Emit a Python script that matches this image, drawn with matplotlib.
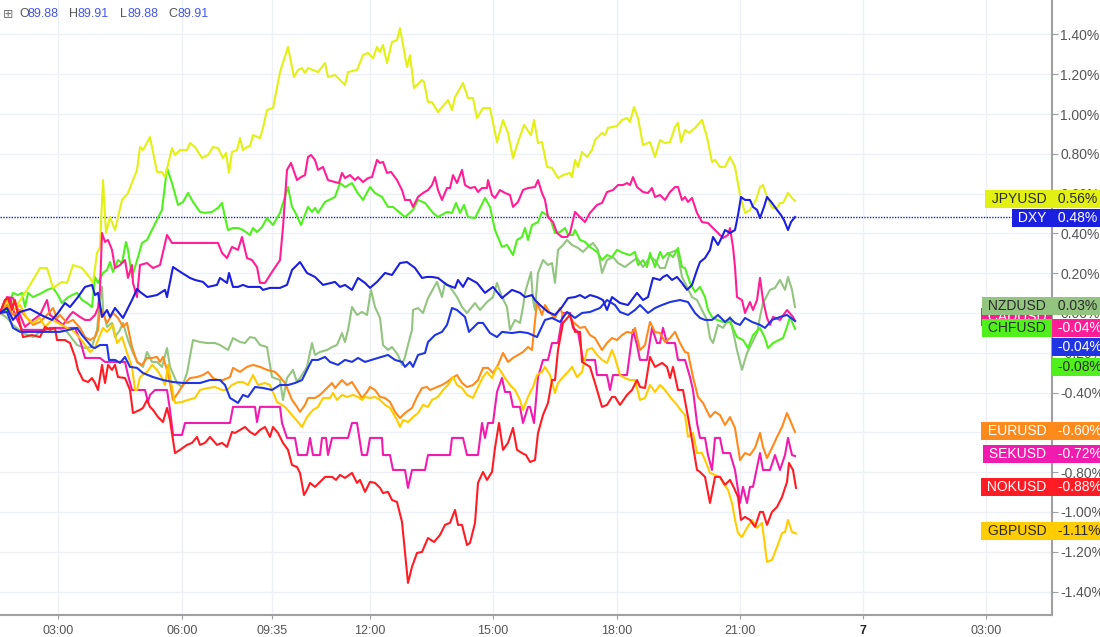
import matplotlib
matplotlib.use('Agg')
import matplotlib.pyplot as plt

plt.rcParams['font.family'] = ['Liberation Sans', 'DejaVu Sans']

# (bar, % change)
jpy = [(0, 0), (1.0, 0.025), (2.0, 0.065), (3.4, 0.040), (5.4, 0.116), (8.0, 0.226), (9.4, 0.226), (10.6, 0.126),
       (12.4, 0.156), (13.4, 0.151), (14.6, 0.241), (16.4, 0.226), (18.0, 0.176), (18.6, 0.151), (19.4, 0.302),
       (20.0, 0.332), (20.6, 0.668), (21.2, 0.402), (22.0, 0.482), (23.0, 0.417), (24.4, 0.568), (25.6, 0.603),
       (27.4, 0.719), (28.0, 0.834), (28.6, 0.819), (30.0, 0.884), (31.4, 0.709), (32.4, 0.709), (33.0, 0.683),
       (34.4, 0.829), (35.0, 0.794), (36.0, 0.819), (37.4, 0.819), (38.0, 0.854), (39.0, 0.834), (40.4, 0.779),
       (41.6, 0.794), (42.6, 0.834), (43.6, 0.829), (44.6, 0.779), (45.2, 0.804), (45.8, 0.704), (46.4, 0.809),
       (47.4, 0.819), (48.0, 0.879), (48.6, 0.819), (49.4, 0.834), (50.0, 0.839), (50.6, 0.894), (52.0, 0.879),
       (52.6, 0.930), (53.4, 1.020), (54.6, 1.030), (56.0, 1.211), (57.6, 1.337), (58.8, 1.186), (59.6, 1.221),
       (60.4, 1.231), (61.0, 1.206), (61.6, 1.231), (62.6, 1.221), (63.6, 1.211), (65.0, 1.256), (65.6, 1.186),
       (67.0, 1.196), (68.0, 1.171), (69.0, 1.146), (69.6, 1.211), (71.4, 1.221), (72.6, 1.296), (73.6, 1.307),
       (74.6, 1.281), (75.4, 1.337), (76.0, 1.312), (76.6, 1.347), (77.4, 1.256), (78.4, 1.362), (79.4, 1.372),
       (80.0, 1.432), (81.4, 1.236), (82.0, 1.296), (82.8, 1.131), (84.4, 1.171), (84.8, 1.161), (85.6, 1.060),
       (86.4, 1.060), (87.6, 1.010), (89.6, 1.070), (90.4, 1.020), (91.0, 1.085), (92.6, 1.156), (93.6, 1.080),
       (94.6, 1.080), (95.4, 0.980), (96.6, 1.030), (98.0, 1.030), (99.4, 0.859), (100.6, 0.970), (101.6, 0.905),
       (102.6, 0.779), (103.6, 0.859), (104.8, 0.945), (106.2, 0.894), (106.8, 0.970), (107.6, 0.854),
       (108.4, 0.859), (109.4, 0.734), (110.4, 0.729), (111.6, 0.678), (112.6, 0.693), (114.0, 0.704),
       (114.4, 0.683), (115.0, 0.769), (115.6, 0.734), (116.4, 0.809), (117.4, 0.784), (118.4, 0.819),
       (119.0, 0.869), (120.4, 0.905), (121.0, 0.894), (121.6, 0.930), (123.4, 0.940), (124.4, 0.970),
       (125.4, 0.980), (126.0, 0.960), (126.8, 1.035), (127.6, 0.980), (128.6, 0.844), (130.0, 0.859),
       (131.0, 0.784), (132.0, 0.869), (133.0, 0.854), (134.0, 0.859), (135.0, 0.935), (135.6, 0.955),
       (136.2, 0.859), (137.0, 0.920), (137.8, 0.905), (139.0, 0.930), (140.4, 0.970), (141.4, 0.884),
       (142.4, 0.759), (143.0, 0.769), (144.0, 0.734), (145.0, 0.734), (146.0, 0.784), (147.0, 0.734),
       (148.0, 0.593), (149.0, 0.503), (150.0, 0.518), (151.2, 0.568), (152.0, 0.633), (152.6, 0.643),
       (153.4, 0.583), (154.4, 0.528), (155.4, 0.528), (156.0, 0.553), (156.6, 0.553), (157.6, 0.603),
       (158.4, 0.578), (159.0, 0.563)]

dxy = [(0, 0), (1.4, 0.025), (2.6, -0.035), (4.0, 0.005), (6.0, 0.020), (8.6, -0.015), (10.4, -0.035),
       (11.6, 0.0), (13.0, 0.050), (14.0, 0.030), (15.6, 0.080), (17.0, 0.131), (18.4, 0.141), (19.0, 0.090),
       (19.6, 0.101), (20.4, -0.020), (21.4, 0.015), (22.0, -0.020), (23.0, 0.025), (24.6, -0.025),
       (26.4, 0.065), (27.4, 0.121), (28.0, 0.106), (29.4, 0.080), (31.4, 0.090), (33.0, 0.116), (33.4, 0.080),
       (34.6, 0.231), (36.4, 0.201), (38.0, 0.176), (39.0, 0.166), (40.6, 0.156), (41.6, 0.131), (43.4, 0.141),
       (44.0, 0.176), (45.4, 0.151), (45.8, 0.201), (46.6, 0.131), (47.6, 0.131), (48.6, 0.141), (49.6, 0.131),
       (52.0, 0.131), (52.6, 0.116), (54.0, 0.126), (56.0, 0.126), (57.4, 0.141), (58.4, 0.216), (60.0, 0.256),
       (61.4, 0.201), (63.0, 0.181), (64.6, 0.141), (67.0, 0.156), (68.0, 0.131), (69.0, 0.141), (70.4, 0.116),
       (71.6, 0.176), (73.0, 0.151), (74.0, 0.126), (75.4, 0.156), (77.0, 0.201), (78.4, 0.191), (80.0, 0.251),
       (81.4, 0.256), (83.0, 0.226), (84.4, 0.176), (85.4, 0.181), (86.4, 0.181), (87.6, 0.176), (89.4, 0.141),
       (91.0, 0.126), (91.6, 0.166), (92.6, 0.131), (93.6, 0.176), (95.4, 0.151), (97.0, 0.101), (98.6, 0.131),
       (100.4, 0.075), (102.4, 0.116), (104.0, 0.101), (105.0, 0.080), (106.4, 0.090), (107.0, 0.065),
       (108.0, 0.040), (109.6, 0.005), (111.0, -0.010), (112.4, 0.030), (113.6, 0.075), (115.0, 0.080),
       (116.0, 0.090), (117.0, 0.075), (118.0, 0.090), (119.4, 0.080), (120.6, 0.065), (121.4, 0.015),
       (122.4, 0.080), (124.0, 0.050), (125.6, 0.040), (127.4, 0.101), (128.6, 0.065), (129.6, 0.080),
       (130.6, 0.176), (132.0, 0.166), (132.6, 0.181), (133.4, 0.191), (134.4, 0.166), (135.4, 0.181),
       (136.4, 0.151), (137.4, 0.116), (138.4, 0.141), (139.4, 0.216), (140.0, 0.256), (141.0, 0.276),
       (142.0, 0.317), (142.6, 0.382), (143.6, 0.342), (144.4, 0.382), (145.0, 0.417), (146.0, 0.402),
       (147.0, 0.417), (147.6, 0.492), (148.2, 0.583), (149.0, 0.568), (150.0, 0.568), (150.6, 0.533),
       (151.4, 0.518), (152.0, 0.477), (152.8, 0.533), (153.4, 0.583), (154.4, 0.553), (155.4, 0.518),
       (156.2, 0.492), (156.8, 0.467), (157.6, 0.417), (158.2, 0.457), (159.0, 0.482)]

aud = [(0, 0), (1.4, 0.005), (2.6, -0.075), (4.0, -0.095), (8.6, -0.095), (12.0, -0.095), (15.4, -0.075),
       (16.4, -0.111), (18.4, -0.171), (19.0, -0.176), (20.0, -0.161), (21.4, -0.161), (21.8, -0.236),
       (23.0, -0.236), (24.0, -0.251), (25.0, -0.221), (26.0, -0.271), (27.4, -0.276), (28.6, -0.302),
       (30.6, -0.322), (32.6, -0.337), (34.6, -0.347), (36.6, -0.352), (40.0, -0.352), (42.0, -0.337),
       (44.0, -0.337), (45.0, -0.362), (46.0, -0.427), (47.6, -0.452), (48.6, -0.412), (49.6, -0.422),
       (51.0, -0.372), (52.6, -0.377), (54.4, -0.387), (56.0, -0.362), (57.6, -0.362), (59.0, -0.352),
       (60.4, -0.337), (61.4, -0.286), (62.4, -0.236), (63.6, -0.236), (65.0, -0.221), (66.0, -0.246),
       (67.6, -0.261), (69.0, -0.236), (70.4, -0.246), (71.6, -0.226), (73.0, -0.246), (75.6, -0.226),
       (77.6, -0.211), (79.0, -0.236), (80.4, -0.246), (81.0, -0.271), (82.0, -0.246), (82.6, -0.271),
       (83.6, -0.211), (85.0, -0.201), (85.6, -0.146), (87.0, -0.111), (88.4, -0.095), (89.4, -0.060),
       (90.4, 0.025), (91.4, 0.015), (93.0, -0.020), (93.8, -0.095), (95.6, -0.050), (96.6, -0.050),
       (98.0, -0.101), (99.4, -0.121), (100.4, -0.095), (102.4, -0.101), (104.0, -0.095), (105.6, -0.101),
       (107.4, -0.121), (109.0, -0.035), (110.4, -0.025), (112.0, -0.045), (113.4, 0.005), (115.0, -0.025),
       (116.4, 0.0), (118.0, 0.005), (120.0, 0.025), (121.4, 0.065), (123.0, 0.040), (124.0, 0.005),
       (125.6, -0.010), (127.0, 0.015), (128.0, 0.040), (129.6, 0.0), (131.0, 0.025), (132.4, 0.040),
       (134.0, 0.055), (136.0, 0.065), (137.6, 0.055), (139.0, 0.0), (140.0, -0.025), (141.0, -0.035),
       (142.4, -0.035), (143.6, -0.010), (145.0, -0.045), (146.0, -0.025), (147.0, -0.050), (148.0, -0.060),
       (149.0, -0.025), (150.4, -0.045), (152.0, -0.060), (153.0, -0.075), (154.4, -0.035), (156.0, -0.020),
       (157.4, -0.010), (159.0, -0.040)]

chf = [(0, 0), (1.4, 0.015), (2.6, 0.101), (3.6, 0.090), (4.4, 0.101), (5.0, 0.030), (5.6, 0.101), (6.6, 0.080),
       (8.4, 0.101), (9.4, 0.116), (10.6, 0.126), (11.6, 0.090), (12.4, 0.050), (13.4, 0.075), (14.4, 0.090),
       (15.4, 0.101), (16.4, 0.065), (17.4, 0.050), (18.4, 0.030), (19.0, 0.181), (19.6, 0.151), (20.6, 0.201),
       (21.4, 0.216), (22.0, 0.256), (22.6, 0.206), (23.6, 0.266), (24.4, 0.251), (25.2, 0.357), (25.6, 0.317),
       (26.4, 0.181), (27.0, 0.231), (27.6, 0.281), (28.4, 0.352), (29.4, 0.367), (30.4, 0.417), (31.4, 0.467),
       (32.4, 0.518), (33.4, 0.729), (34.4, 0.653), (35.6, 0.543), (36.6, 0.558), (37.6, 0.603), (38.6, 0.558),
       (40.0, 0.508), (41.0, 0.503), (42.4, 0.508), (43.6, 0.528), (44.4, 0.553), (45.0, 0.482), (45.6, 0.417),
       (46.6, 0.427), (47.6, 0.427), (48.6, 0.417), (50.0, 0.392), (50.6, 0.427), (51.4, 0.407), (52.4, 0.432),
       (53.4, 0.477), (54.6, 0.442), (56.0, 0.503), (57.6, 0.633), (58.4, 0.533), (59.0, 0.508), (60.2, 0.442),
       (61.6, 0.533), (62.4, 0.508), (63.0, 0.528), (63.6, 0.503), (65.0, 0.558), (67.0, 0.583), (68.0, 0.653),
       (69.0, 0.633), (70.4, 0.653), (71.4, 0.608), (72.6, 0.568), (74.0, 0.633), (75.0, 0.603), (76.4, 0.583),
       (77.6, 0.533), (78.6, 0.533), (81.0, 0.482), (82.6, 0.518), (83.6, 0.568), (85.0, 0.553), (86.6, 0.503),
       (87.6, 0.482), (89.4, 0.508), (90.4, 0.503), (91.2, 0.553), (92.0, 0.503), (92.8, 0.543), (93.6, 0.482),
       (95.0, 0.477), (97.0, 0.578), (98.0, 0.533), (99.0, 0.417), (100.4, 0.332), (101.4, 0.342),
       (102.6, 0.291), (103.4, 0.367), (104.4, 0.382), (105.0, 0.427), (105.6, 0.367), (106.4, 0.442),
       (107.6, 0.457), (108.4, 0.508), (109.4, 0.492), (110.0, 0.477), (111.0, 0.402), (112.0, 0.407),
       (113.0, 0.427), (113.6, 0.392), (114.6, 0.392), (115.0, 0.417), (116.0, 0.367), (117.0, 0.357),
       (118.0, 0.332), (119.4, 0.307), (120.4, 0.266), (121.4, 0.291), (122.4, 0.281), (123.4, 0.317),
       (124.6, 0.302), (126.0, 0.291), (127.0, 0.307), (127.6, 0.241), (128.6, 0.266), (129.4, 0.231),
       (130.0, 0.302), (131.0, 0.231), (132.0, 0.307), (132.6, 0.276), (133.6, 0.302), (134.6, 0.281),
       (135.6, 0.327), (136.4, 0.231), (137.0, 0.226), (138.0, 0.151), (139.0, 0.106), (140.0, 0.131),
       (141.0, 0.080), (141.6, 0.015), (142.4, -0.020), (143.4, -0.035), (144.6, -0.045), (146.0, -0.045),
       (147.4, -0.121), (148.6, -0.136), (149.6, -0.176), (150.6, -0.111), (152.0, -0.075), (153.0, -0.126),
       (153.6, -0.176), (154.6, -0.151), (156.6, -0.126), (157.4, -0.070), (158.0, -0.020), (159.0, -0.080)]

nzd = [(0, 0), (1.4, -0.025), (2.6, -0.060), (4.6, -0.101), (6.6, -0.121), (8.6, -0.085), (11.4, -0.075),
       (13.4, -0.095), (15.4, -0.161), (17.0, -0.176), (18.4, -0.171), (19.4, -0.085), (20.0, 0.065),
       (20.4, 0.131), (20.6, 0.015), (21.4, -0.070), (22.4, -0.050), (23.0, -0.121), (24.0, -0.085),
       (24.6, -0.050), (25.6, -0.136), (26.6, -0.201), (27.6, -0.251), (28.6, -0.271), (29.4, -0.196),
       (30.4, -0.246), (31.4, -0.246), (32.4, -0.271), (33.4, -0.176), (34.0, -0.271), (35.4, -0.352),
       (36.4, -0.372), (37.4, -0.302), (38.6, -0.136), (40.0, -0.146), (41.4, -0.151), (43.0, -0.151),
       (44.0, -0.161), (45.6, -0.186), (46.6, -0.126), (48.0, -0.146), (49.0, -0.151), (50.0, -0.121),
       (51.0, -0.126), (52.0, -0.161), (53.4, -0.171), (54.0, -0.261), (54.4, -0.322), (56.0, -0.337),
       (56.6, -0.437), (57.4, -0.327), (58.6, -0.286), (59.4, -0.347), (60.4, -0.312), (61.4, -0.271),
       (62.4, -0.151), (63.0, -0.211), (64.0, -0.196), (65.4, -0.186), (66.4, -0.171), (67.4, -0.161),
       (68.4, -0.101), (69.0, -0.146), (69.6, -0.085), (70.4, 0.030), (71.4, -0.010), (72.4, 0.005),
       (73.4, -0.010), (74.2, 0.116), (75.0, 0.030), (76.0, -0.025), (76.6, -0.161), (77.6, -0.186),
       (78.4, -0.171), (79.6, -0.211), (80.4, -0.261), (81.0, -0.221), (81.6, -0.161), (82.4, -0.085),
       (82.6, 0.015), (83.6, 0.025), (84.6, 0.0), (85.6, 0.075), (87.4, 0.156), (88.4, 0.080), (89.0, 0.151),
       (90.0, 0.131), (91.4, 0.080), (92.4, 0.030), (93.4, 0.0), (95.0, 0.050), (96.0, 0.015), (97.4, 0.055),
       (98.6, 0.080), (99.4, 0.151), (100.4, 0.080), (101.4, 0.030), (102.0, -0.085), (103.0, -0.035),
       (104.0, -0.050), (104.6, 0.030), (105.0, 0.101), (106.2, 0.206), (106.6, 0.065), (107.0, 0.015),
       (107.6, 0.201), (108.6, 0.266), (109.6, 0.241), (110.4, 0.251), (111.0, 0.151), (111.6, 0.317),
       (112.6, 0.342), (113.4, 0.367), (114.4, 0.342), (115.6, 0.327), (116.6, 0.307), (117.6, 0.332),
       (118.6, 0.352), (119.6, 0.317), (120.4, 0.201), (121.4, 0.266), (122.6, 0.281), (123.6, 0.251),
       (125.0, 0.231), (126.0, 0.251), (127.4, 0.276), (128.6, 0.231), (130.0, 0.281), (131.0, 0.266),
       (132.0, 0.226), (133.0, 0.226), (134.0, 0.302), (135.4, 0.317), (136.4, 0.181), (137.4, 0.131),
       (138.4, 0.080), (139.4, 0.065), (140.4, 0.015), (141.4, -0.035), (142.0, -0.126), (142.6, -0.151),
       (143.6, -0.060), (144.6, -0.075), (146.0, -0.020), (147.4, -0.186), (148.4, -0.286), (149.4, -0.201),
       (150.4, -0.151), (151.4, -0.101), (152.0, -0.020), (152.6, 0.050), (154.0, 0.116), (155.0, 0.126),
       (156.0, 0.166), (157.0, 0.116), (157.6, 0.181), (158.4, 0.116), (159.0, 0.030)]

cad = [(0, 0), (1.4, 0.080), (2.6, 0.075), (4.0, -0.010), (5.0, -0.070), (6.6, -0.035), (8.0, -0.010),
       (9.4, 0.065), (10.0, -0.010), (11.4, -0.035), (12.6, -0.060), (14.0, -0.010), (14.6, 0.005),
       (16.0, -0.020), (17.0, -0.035), (18.0, -0.035), (19.0, -0.010), (19.6, 0.025), (20.0, 0.116),
       (20.4, 0.402), (21.0, 0.357), (21.6, 0.367), (22.4, 0.317), (23.0, 0.226), (24.0, 0.241), (25.0, 0.266),
       (25.6, 0.176), (26.4, 0.241), (26.6, 0.151), (27.4, 0.080), (28.0, 0.241), (29.4, 0.251), (30.6, 0.226),
       (32.0, 0.241), (33.4, 0.392), (34.4, 0.352), (36.0, 0.352), (40.0, 0.352), (43.6, 0.352), (44.4, 0.302),
       (45.4, 0.276), (46.4, 0.332), (47.6, 0.317), (48.4, 0.382), (49.4, 0.276), (50.4, 0.266), (51.4, 0.231),
       (52.0, 0.151), (53.0, 0.151), (54.4, 0.206), (56.0, 0.266), (56.6, 0.432), (57.4, 0.719), (58.2, 0.754),
       (59.4, 0.668), (60.2, 0.683), (61.0, 0.693), (61.6, 0.784), (62.2, 0.794), (63.0, 0.769), (63.6, 0.719),
       (64.6, 0.734), (65.6, 0.668), (67.0, 0.658), (67.8, 0.653), (68.4, 0.704), (69.0, 0.678), (70.0, 0.693),
       (71.0, 0.668), (71.6, 0.683), (72.6, 0.658), (73.6, 0.678), (74.4, 0.683), (75.4, 0.769), (76.0, 0.754),
       (76.6, 0.759), (77.4, 0.704), (78.2, 0.709), (79.4, 0.668), (80.4, 0.618), (81.0, 0.568), (82.0, 0.568),
       (82.6, 0.533), (83.6, 0.583), (84.6, 0.603), (85.6, 0.618), (86.4, 0.643), (87.0, 0.683), (87.6, 0.618),
       (88.4, 0.568), (89.4, 0.628), (90.0, 0.628), (90.6, 0.693), (91.4, 0.653), (92.4, 0.719), (93.0, 0.643),
       (94.0, 0.628), (95.0, 0.633), (95.6, 0.608), (96.4, 0.628), (97.4, 0.628), (97.6, 0.668), (98.4, 0.593),
       (99.0, 0.578), (100.0, 0.618), (101.0, 0.603), (102.0, 0.593), (102.6, 0.533), (103.6, 0.558),
       (104.6, 0.618), (105.6, 0.628), (107.0, 0.633), (107.6, 0.668), (108.4, 0.603), (109.0, 0.568),
       (109.6, 0.482), (110.6, 0.457), (111.4, 0.402), (112.4, 0.382), (113.4, 0.382), (114.0, 0.402),
       (115.0, 0.508), (116.0, 0.482), (117.0, 0.457), (118.0, 0.503), (119.4, 0.543), (120.4, 0.553),
       (121.4, 0.608), (122.6, 0.618), (123.6, 0.643), (124.6, 0.643), (125.4, 0.653), (126.0, 0.643),
       (126.6, 0.683), (127.4, 0.633), (128.6, 0.608), (129.6, 0.603), (130.4, 0.628), (131.0, 0.583),
       (132.0, 0.593), (133.0, 0.568), (134.0, 0.608), (135.0, 0.633), (135.6, 0.633), (136.4, 0.568),
       (137.0, 0.583), (137.6, 0.558), (138.4, 0.578), (139.4, 0.503), (140.4, 0.457), (141.6, 0.452),
       (142.6, 0.427), (143.6, 0.402), (144.6, 0.377), (145.6, 0.392), (146.0, 0.427), (146.6, 0.332),
       (147.0, 0.231), (147.4, 0.080), (148.4, 0.065), (149.0, 0.0), (150.0, 0.055), (150.6, 0.015),
       (151.4, 0.065), (152.0, 0.176), (152.6, 0.065), (153.4, -0.025), (154.0, -0.060), (154.6, -0.020),
       (156.0, -0.035), (157.4, 0.015), (158.6, -0.020), (159.0, -0.040)]

sek = [(0, 0), (1.0, 0.065), (2.0, 0.075), (3.0, -0.010), (4.4, -0.085), (9.0, -0.085), (10.0, -0.075),
       (15.0, -0.075), (16.0, -0.136), (17.0, -0.226), (20.0, -0.226), (21.0, -0.246), (25.0, -0.246),
       (25.6, -0.312), (26.4, -0.387), (29.0, -0.387), (29.6, -0.447), (30.0, -0.412), (31.0, -0.387),
       (33.4, -0.387), (34.0, -0.487), (34.6, -0.613), (36.4, -0.613), (37.0, -0.553), (46.0, -0.553),
       (46.6, -0.472), (51.0, -0.472), (51.4, -0.548), (52.0, -0.472), (56.0, -0.472), (56.4, -0.553),
       (57.4, -0.628), (59.0, -0.628), (59.6, -0.714), (61.4, -0.714), (62.0, -0.628), (62.6, -0.714),
       (64.0, -0.714), (64.4, -0.628), (65.2, -0.628), (65.6, -0.714), (66.4, -0.628), (69.6, -0.628),
       (70.4, -0.553), (71.4, -0.553), (72.4, -0.714), (73.4, -0.714), (74.0, -0.628), (76.4, -0.628),
       (76.6, -0.714), (78.0, -0.714), (78.6, -0.789), (81.0, -0.789), (81.6, -0.879), (82.4, -0.789),
       (85.0, -0.789), (85.6, -0.714), (90.0, -0.714), (90.4, -0.628), (92.6, -0.628), (93.4, -0.714),
       (95.6, -0.714), (96.4, -0.553), (97.0, -0.628), (97.6, -0.553), (98.6, -0.553), (99.4, -0.397),
       (100.4, -0.327), (101.0, -0.397), (102.0, -0.397), (102.6, -0.472), (104.0, -0.472), (104.6, -0.553),
       (105.6, -0.472), (106.0, -0.472), (106.8, -0.553), (107.6, -0.322), (108.6, -0.236), (109.6, -0.236),
       (110.4, -0.151), (111.6, -0.151), (112.6, 0.0), (114.0, 0.0), (114.6, -0.075), (115.6, -0.095),
       (116.6, -0.236), (119.0, -0.236), (119.4, -0.312), (121.4, -0.312), (122.0, -0.387), (122.6, -0.312),
       (125.4, -0.312), (126.6, -0.085), (127.4, -0.161), (128.0, -0.236), (129.4, -0.236), (130.4, -0.075),
       (131.4, -0.151), (132.0, -0.151), (132.6, -0.075), (133.4, -0.151), (135.0, -0.151), (135.6, -0.236),
       (137.0, -0.236), (138.0, -0.322), (138.6, -0.387), (139.4, -0.553), (140.0, -0.628), (141.0, -0.628),
       (141.6, -0.714), (142.4, -0.789), (143.0, -0.628), (144.0, -0.628), (144.6, -0.704), (146.0, -0.704),
       (147.0, -0.789), (148.0, -0.955), (148.6, -0.874), (149.4, -0.955), (150.0, -0.874), (150.6, -0.874),
       (152.0, -0.704), (152.6, -0.789), (154.0, -0.789), (155.0, -0.714), (156.0, -0.789), (157.0, -0.714),
       (157.6, -0.628), (158.4, -0.714), (159.0, -0.719)]

nok = [(0, 0), (1.0, 0.065), (1.6, 0.075), (2.4, 0.015), (3.0, 0.065), (3.6, -0.010), (4.6, -0.121),
       (6.4, -0.111), (8.0, -0.121), (9.0, -0.070), (10.0, -0.085), (11.0, -0.075), (11.4, -0.136),
       (13.0, -0.136), (14.0, -0.151), (15.0, -0.221), (15.6, -0.286), (16.6, -0.337), (17.6, -0.347),
       (18.4, -0.327), (19.0, -0.352), (19.6, -0.387), (20.4, -0.261), (21.0, -0.352), (21.6, -0.261),
       (22.4, -0.286), (23.0, -0.261), (23.6, -0.322), (25.0, -0.327), (26.0, -0.387), (26.6, -0.503),
       (28.0, -0.487), (28.6, -0.477), (29.4, -0.437), (30.0, -0.472), (30.6, -0.487), (31.6, -0.523),
       (32.6, -0.548), (33.4, -0.477), (34.0, -0.538), (35.0, -0.704), (36.0, -0.688), (37.4, -0.663),
       (38.4, -0.653), (39.4, -0.623), (40.0, -0.663), (41.0, -0.653), (42.0, -0.623), (43.4, -0.663),
       (44.4, -0.653), (45.4, -0.673), (46.4, -0.598), (47.0, -0.603), (48.0, -0.588), (49.0, -0.573),
       (50.0, -0.598), (51.0, -0.613), (52.0, -0.588), (53.0, -0.573), (54.0, -0.623), (54.6, -0.573),
       (55.6, -0.603), (56.6, -0.653), (57.6, -0.688), (58.4, -0.764), (59.4, -0.774), (60.0, -0.804),
       (60.8, -0.915), (61.4, -0.889), (62.0, -0.854), (63.0, -0.874), (64.0, -0.849), (65.0, -0.824),
       (66.4, -0.824), (67.2, -0.839), (68.0, -0.814), (69.0, -0.829), (70.4, -0.804), (71.4, -0.854),
       (72.0, -0.839), (73.0, -0.899), (74.0, -0.849), (75.0, -0.854), (76.0, -0.879), (76.6, -0.905),
       (77.6, -0.899), (78.4, -0.940), (79.4, -0.950), (80.4, -1.050), (81.6, -1.357), (82.4, -1.276),
       (83.4, -1.206), (84.4, -1.201), (85.6, -1.131), (86.8, -1.151), (88.0, -1.116), (89.0, -1.065),
       (90.0, -1.055), (91.0, -0.990), (91.6, -1.065), (92.4, -1.065), (93.4, -1.166), (94.0, -1.156),
       (95.0, -1.055), (95.6, -0.854), (96.6, -0.799), (97.4, -0.839), (98.4, -0.799), (99.0, -0.678),
       (99.8, -0.553), (100.6, -0.688), (101.6, -0.653), (102.6, -0.578), (103.4, -0.688), (104.4, -0.704),
       (105.2, -0.714), (106.0, -0.749), (107.0, -0.739), (107.6, -0.603), (108.6, -0.513), (109.6, -0.452),
       (110.4, -0.337), (111.0, -0.337), (111.6, -0.186), (112.6, -0.050), (114.0, -0.010), (115.0, -0.095),
       (116.0, -0.095), (116.4, -0.246), (117.4, -0.261), (118.0, -0.271), (119.0, -0.352), (120.4, -0.472),
       (121.4, -0.462), (122.4, -0.422), (123.0, -0.422), (124.0, -0.462), (125.4, -0.412), (126.4, -0.387),
       (127.4, -0.337), (128.0, -0.372), (129.0, -0.377), (130.0, -0.221), (131.0, -0.271), (132.4, -0.251),
       (133.4, -0.271), (134.0, -0.327), (134.6, -0.271), (135.6, -0.387), (136.6, -0.387), (137.6, -0.523),
       (138.4, -0.638), (139.4, -0.789), (140.0, -0.799), (141.0, -0.824), (142.0, -0.955), (143.0, -0.824),
       (144.0, -0.824), (145.0, -0.864), (146.0, -0.839), (146.8, -0.879), (147.6, -0.925), (148.2, -1.040),
       (149.0, -1.025), (150.0, -1.040), (151.0, -1.075), (152.0, -1.000), (152.6, -1.000), (153.4, -1.065),
       (154.4, -1.000), (155.4, -0.975), (156.4, -0.925), (157.4, -0.849), (157.8, -0.754), (158.6, -0.789),
       (159.2, -0.879)]

eur = [(0, 0), (1.4, 0.040), (2.6, -0.010), (4.0, 0.015), (5.4, -0.025), (6.6, -0.060), (8.0, -0.045),
       (9.4, -0.010), (10.6, 0.025), (11.4, -0.025), (12.0, -0.010), (13.4, -0.050), (14.6, -0.035),
       (16.0, -0.075), (17.0, -0.121), (18.0, -0.136), (19.0, -0.121), (19.6, -0.085), (20.0, 0.030),
       (21.4, -0.050), (22.6, 0.0), (23.6, -0.025), (24.6, -0.070), (25.4, -0.050), (26.4, -0.171),
       (27.4, -0.246), (28.4, -0.261), (29.4, -0.226), (30.4, -0.226), (31.4, -0.221), (32.0, -0.246),
       (32.6, -0.221), (33.4, -0.286), (34.0, -0.352), (34.6, -0.437), (35.6, -0.402), (36.6, -0.362),
       (38.0, -0.327), (39.4, -0.322), (40.6, -0.312), (41.6, -0.296), (42.6, -0.327), (43.6, -0.337),
       (44.6, -0.337), (46.0, -0.322), (46.6, -0.276), (48.0, -0.296), (49.4, -0.271), (50.6, -0.261),
       (52.0, -0.271), (53.4, -0.286), (55.0, -0.296), (56.0, -0.322), (57.0, -0.352), (58.4, -0.437),
       (59.4, -0.472), (60.0, -0.497), (61.0, -0.462), (61.6, -0.427), (63.0, -0.427), (64.0, -0.412),
       (65.4, -0.377), (66.4, -0.352), (67.0, -0.377), (68.4, -0.337), (69.4, -0.362), (70.4, -0.347),
       (71.4, -0.387), (72.4, -0.427), (73.4, -0.397), (74.0, -0.372), (75.0, -0.387), (76.0, -0.422),
       (77.0, -0.427), (78.0, -0.447), (79.0, -0.497), (80.0, -0.528), (81.0, -0.503), (82.4, -0.477),
       (83.4, -0.422), (84.4, -0.377), (85.4, -0.372), (86.0, -0.387), (87.4, -0.372), (88.4, -0.362),
       (89.4, -0.347), (90.4, -0.327), (91.4, -0.312), (92.4, -0.352), (93.4, -0.372), (94.6, -0.362),
       (95.6, -0.337), (96.6, -0.276), (97.6, -0.276), (98.6, -0.302), (99.6, -0.261), (100.6, -0.201),
       (101.6, -0.246), (102.6, -0.226), (103.6, -0.211), (104.6, -0.196), (105.6, -0.171), (106.4, -0.186),
       (107.4, 0.055), (108.4, -0.010), (109.0, 0.040), (110.0, 0.0), (111.0, -0.025), (112.0, 0.025),
       (112.6, -0.010), (113.6, 0.0), (114.6, -0.045), (116.0, -0.075), (117.0, -0.070), (118.0, -0.111),
       (119.0, -0.126), (120.4, -0.186), (121.4, -0.151), (122.4, -0.126), (123.4, -0.136), (124.4, -0.111),
       (125.4, -0.095), (126.4, -0.101), (127.0, -0.075), (128.0, -0.186), (129.0, -0.161), (130.0, -0.045),
       (131.0, -0.095), (132.0, -0.101), (133.0, -0.146), (134.0, -0.126), (135.0, -0.095), (136.0, -0.151),
       (137.0, -0.196), (137.6, -0.201), (138.6, -0.322), (139.6, -0.422), (140.6, -0.452), (142.0, -0.523),
       (143.0, -0.497), (144.0, -0.513), (145.0, -0.563), (146.0, -0.523), (147.0, -0.578), (148.0, -0.739),
       (149.0, -0.704), (150.0, -0.714), (151.0, -0.678), (152.0, -0.603), (152.6, -0.673), (153.4, -0.729),
       (154.4, -0.678), (155.4, -0.623), (156.4, -0.573), (157.4, -0.503), (158.0, -0.538), (159.0, -0.598)]

gbp = [(0, 0), (1.4, 0.065), (2.6, 0.015), (4.0, 0.040), (5.4, -0.025), (6.6, -0.050), (8.0, -0.025),
       (9.0, -0.070), (10.4, -0.035), (11.6, -0.050), (13.4, -0.075), (14.4, -0.085), (16.0, -0.126),
       (17.0, -0.161), (18.0, -0.196), (19.0, -0.176), (19.6, -0.136), (20.6, -0.075), (21.4, -0.095),
       (22.6, -0.060), (23.4, -0.151), (24.4, -0.121), (25.4, -0.201), (26.4, -0.271), (27.0, -0.387),
       (27.4, -0.387), (28.0, -0.322), (29.4, -0.296), (30.4, -0.261), (31.4, -0.286), (32.4, -0.327),
       (33.0, -0.362), (33.6, -0.261), (34.4, -0.372), (35.0, -0.452), (36.4, -0.447), (37.6, -0.437),
       (39.0, -0.427), (40.0, -0.387), (41.6, -0.377), (43.0, -0.372), (44.4, -0.387), (45.4, -0.387),
       (46.4, -0.362), (47.6, -0.347), (48.6, -0.347), (49.6, -0.362), (50.6, -0.312), (51.6, -0.362),
       (53.0, -0.352), (54.0, -0.362), (55.4, -0.447), (57.0, -0.472), (58.4, -0.513), (59.6, -0.548),
       (60.4, -0.573), (61.4, -0.523), (62.6, -0.487), (63.6, -0.472), (64.6, -0.427), (66.0, -0.427),
       (66.6, -0.402), (67.4, -0.437), (68.4, -0.412), (69.4, -0.422), (70.6, -0.412), (71.6, -0.422),
       (72.4, -0.437), (73.0, -0.422), (74.0, -0.427), (75.0, -0.422), (76.0, -0.437), (77.0, -0.462),
       (78.0, -0.477), (79.4, -0.538), (80.0, -0.573), (80.6, -0.538), (81.6, -0.548), (82.6, -0.523),
       (83.6, -0.503), (84.6, -0.462), (85.6, -0.472), (86.4, -0.437), (87.6, -0.422), (88.6, -0.387),
       (89.6, -0.362), (90.6, -0.322), (91.4, -0.362), (92.4, -0.377), (93.4, -0.412), (94.6, -0.427),
       (95.6, -0.372), (96.6, -0.322), (97.4, -0.296), (98.4, -0.327), (99.4, -0.271), (100.0, -0.286),
       (101.0, -0.327), (102.0, -0.362), (103.0, -0.387), (104.0, -0.437), (104.6, -0.487), (105.6, -0.422),
       (106.6, -0.372), (107.4, -0.312), (108.4, -0.296), (109.0, -0.271), (110.0, -0.312), (111.0, -0.402),
       (111.6, -0.352), (112.6, -0.322), (113.6, -0.296), (114.4, -0.271), (115.4, -0.322), (116.4, -0.296),
       (117.4, -0.186), (118.4, -0.176), (119.4, -0.211), (120.4, -0.236), (121.4, -0.251), (122.4, -0.186),
       (123.0, -0.226), (124.0, -0.312), (125.0, -0.327), (126.0, -0.337), (127.0, -0.337), (128.0, -0.437),
       (129.0, -0.427), (130.0, -0.362), (131.0, -0.397), (132.0, -0.362), (133.0, -0.387), (134.0, -0.422),
       (135.4, -0.462), (136.4, -0.497), (137.0, -0.513), (137.6, -0.623), (138.6, -0.603), (139.4, -0.704),
       (140.4, -0.704), (141.0, -0.739), (142.0, -0.804), (143.0, -0.814), (144.0, -0.824), (144.6, -0.854),
       (145.6, -0.889), (146.4, -0.955), (147.0, -1.040), (147.6, -1.106), (148.4, -1.126), (149.4, -1.080),
       (150.4, -1.040), (151.4, -1.080), (152.4, -1.055), (153.4, -1.251), (154.4, -1.241), (155.4, -1.176),
       (156.4, -1.106), (157.0, -1.101), (157.6, -1.040), (158.4, -1.101), (159.2, -1.108)]

tick_pos = [11.6, 36.4, 54.4, 74.0, 98.6, 123.4, 148.0, 172.6, 197.2]
tick_txt = ['03:00', '06:00', '09:35', '12:00', '15:00', '18:00', '21:00', '7', '03:00']
y_ticks = [1.4, 1.2, 1.0, 0.8, 0.6, 0.4, 0.2, 0.0, -0.2, -0.4, -0.6, -0.8, -1.0, -1.2, -1.4]
ohlc = [('O', '89.88'), ('H', '89.91'), ('L', '89.88'), ('C', '89.91')]

# name, data, line colour, label text colour, name-tag y, value-box y
series = [
    ('NZDUSD', nzd, '#93c480', '#2b2b2b', 0.035, 0.035),
    ('CHFUSD', chf, '#4ff01c', '#2b2b2b', -0.075, -0.271),
    ('JPYUSD', jpy, '#e2f014', '#2b2b2b', 0.573, 0.573),
    ('CADUSD', cad, '#ff1e96', 'white', -0.020, -0.075),
    ('SEKUSD', sek, '#f01cb0', 'white', -0.709, -0.709),
    ('EURUSD', eur, '#ff8a1c', 'white', -0.593, -0.593),
    ('GBPUSD', gbp, '#ffcc00', '#2b2b2b', -1.095, -1.095),
    ('NOKUSD', nok, '#ff1c24', 'white', -0.874, -0.874),
    ('AUDUSD', aud, '#1f35e3', 'white', -0.040, -0.171),
    ('DXY', dxy, '#1b1fe0', 'white', 0.477, 0.477),
]

fig = plt.figure(figsize=(11, 6.37), dpi=100)
ax = fig.add_axes([0, 22 / 637, 1052 / 1100, 615 / 637])

for name, pts, col, tcol, ny, vy in series:
    t, v = zip(*pts)
    ax.plot(t, v, color=col, lw=1.5, zorder=3)

ax.axhline(dxy[-1][1], color='#1b1fe0', lw=1, ls=(0, (1, 1)), zorder=2)

ax.set_xlim(0, 210.4)
ax.set_ylim(-1.518, 1.573)
ax.set_xticks(tick_pos)
ax.set_xticklabels(tick_txt)
ax.set_yticks(y_ticks)
ax.set_yticklabels([f'{v:.2f}%' for v in y_ticks])
ax.yaxis.tick_right()
ax.grid(color='#edf1f6', lw=1)
ax.set_axisbelow(True)
for s in ('top', 'left'):
    ax.spines[s].set_visible(False)
for s in ('right', 'bottom'):
    ax.spines[s].set_color('#a0a0a0')
    ax.spines[s].set_linewidth(1.5)
ax.tick_params(axis='y', length=4, color='#a0a0a0', labelcolor='#555555', labelsize=10, pad=2)
ax.tick_params(axis='x', length=3, color='#a0a0a0', labelcolor='#555555', labelsize=9, pad=4)
lbl7 = ax.get_xticklabels()[7]
lbl7.set_fontweight('bold')
lbl7.set_color('#222222')

# tags at the right edge (later ones drawn on top)
tr = ax.get_yaxis_transform()
order = ['AUDUSD', 'CADUSD', 'NZDUSD', 'CHFUSD', 'JPYUSD', 'DXY', 'EURUSD', 'SEKUSD', 'NOKUSD', 'GBPUSD']
by_name = {s[0]: s for s in series}
for i, nm in enumerate(order):
    name, pts, col, tcol, ny, vy = by_name[nm]
    box = dict(boxstyle='square,pad=0.16', fc=col, ec='none')
    ax.text(1 - 2 / 1052, ny, f' {name} ', transform=tr, ha='right', va='center', fontsize=10,
            color=tcol, bbox=box, zorder=10 + i, clip_on=False)
    ax.text(1 + 2 / 1052, vy, f' {pts[-1][1]:.2f}%   ', transform=tr, ha='left', va='center', fontsize=10,
            color=tcol, bbox=box, zorder=10 + i, clip_on=False)

# OHLC header
yh = 1 - 14 / 637
fig.text(3 / 1100, yh, '\u229e', color='#777777', fontsize=9, va='center', family=['DejaVu Sans'])
key_x = [19, 69, 120, 168]
val_x = [28, 78, 128, 177]
for (k, val), kx, vx in zip(ohlc, key_x, val_x):
    fig.text(kx / 1100, yh, k, color='#555555', fontsize=9, va='center')
    fig.text(vx / 1100, yh, val, color='#4358e8', fontsize=9, va='center')

fig.savefig('out.png', dpi=100)
